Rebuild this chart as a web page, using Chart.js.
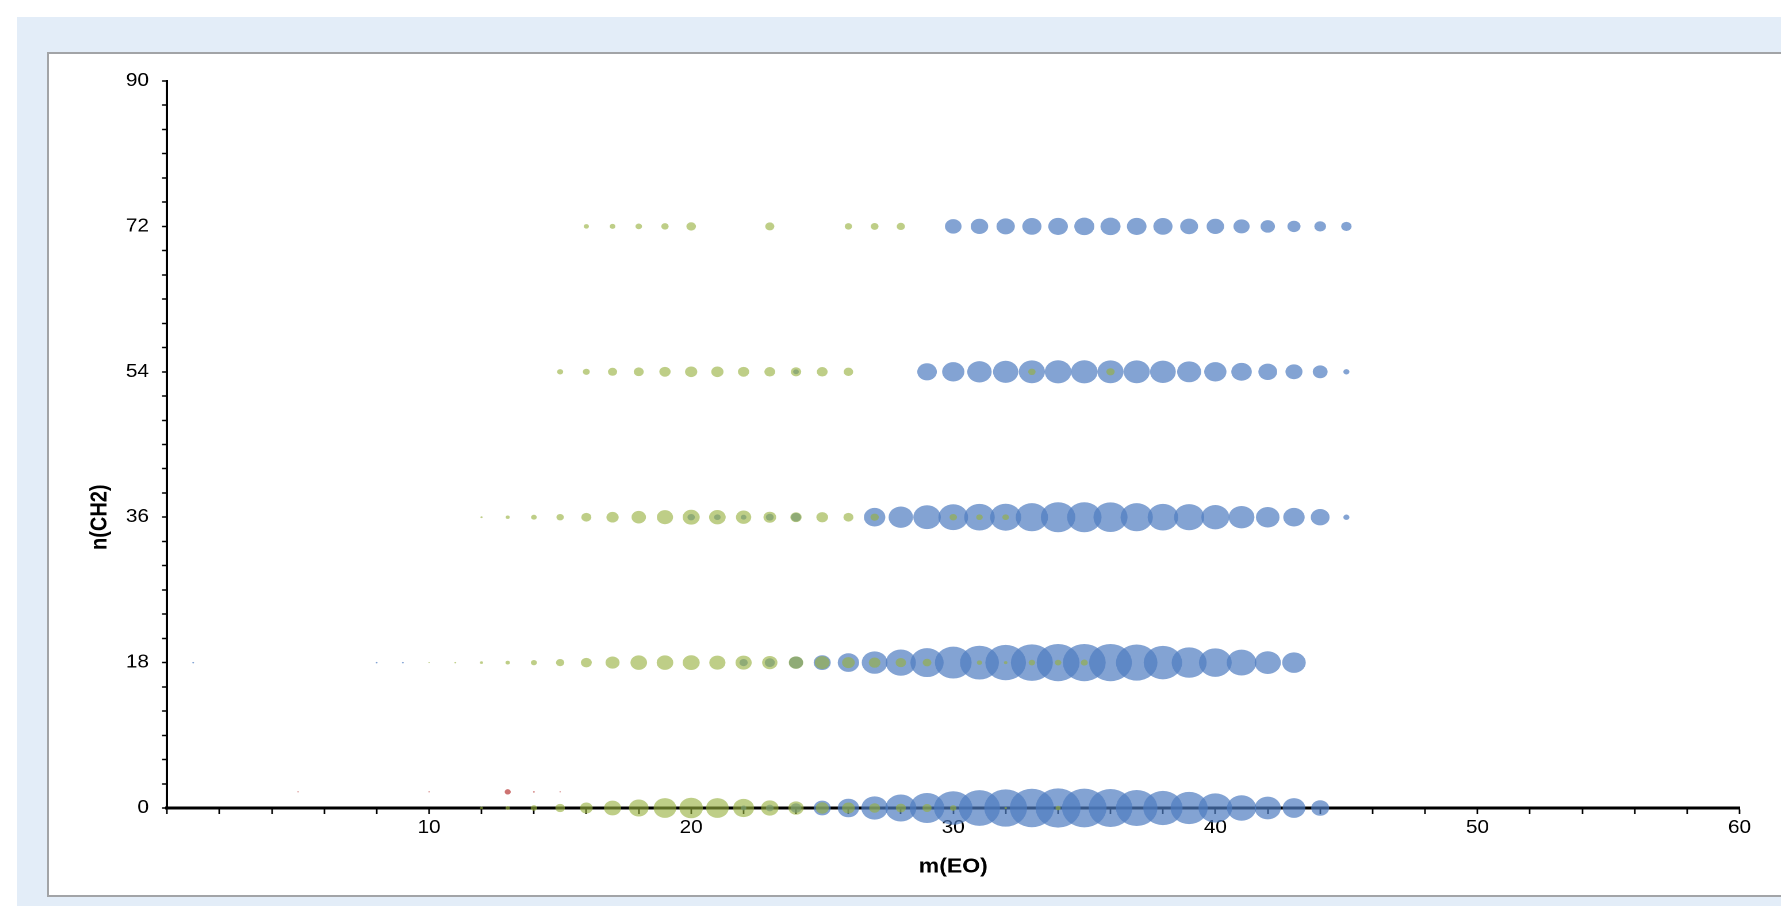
<!DOCTYPE html>
<html>
<head>
<meta charset="utf-8">
<script src="https://cdn.jsdelivr.net/npm/chart.js@4.4.0/dist/chart.umd.min.js"></script>
<style>
  html, body { margin: 0; padding: 0; background: #fff; overflow: hidden; }
  #bg { position: absolute; left: 17px; top: 17px; right: 0; bottom: 0; background: #e3edf8; }
  #panel { position: absolute; left: 47px; top: 52px; width: 1740px; height: 845px; box-sizing: border-box;
           border: 2px solid #a2a4a7; background: #fff; }
  /* the original picture is stretched sideways, so the chart is too */
  #wrap { position: absolute; left: 0; top: 0; width: 1506px; height: 841px;
          transform: scaleX(1.15); transform-origin: 0 0; }
</style>
</head>
<body>
<div id="bg"></div>
<div id="panel"><div id="wrap"><canvas id="chart"></canvas></div></div>
<script>
// n(CH2) levels and bubble intensities per m(EO)
const ch2Levels = [0, 18, 36, 54, 72];

const greenStart = [12, 10, 12, 15, 16];
const greenSizes = [
  [7, 10, 15, 22, 29, 39, 45, 52, 54, 52, 48, 40, 35, 30, 29, 25, 23, 21, 15, null, 6, null, 12],
  [3, 4, 7, 10, 14, 19, 25, 32, 38, 38, 39, 37, 37, 35, 33, 34, 29, 27, 24, 20, null, 12, 8, 15, 15, 16],
  [5, 9, 13, 17, 23, 28, 33, 37, 39, 38, 35, 29, 26, 27, 23, 19, null, null, 17, 15, 15],
  [14, 16, 21, 23, 26, 28, 28, 26, 25, 24, 25, 22, null, null, null, null, null, null, 17, null, null, 19],
  [12, 13, 15, 17, 22, null, null, 21, null, null, 17, 18, 19]
];

const blueStart = [22, 1, 20, 24, 30];
const blueSizes = [
  [13, 18, 25, 39, 49, 61, 71, 79, 88, 94, 98, 101, 103, 102, 100, 95, 90, 85, 77, 67, 60, 52, 41],
  [4, null, null, null, null, null, null, 4, 4, null, null, null, null, null, null, null, null, null, null, null, null,
   19, 23, 32, 39, 49, 59, 69, 76, 84, 89, 93, 96, 98, 98, 98, 95, 88, 80, 75, 68, 60, 54],
  [17, 15, 13, 18, 23, null, null, 49, 56, 63, 68, 70, 71, 74, 79, 79, 78, 74, 70, 69, 64, 59, 54, 49, 43, 14],
  [13, null, null, null, null, 45, 51, 56, 58, 60, 61, 61, 60, 60, 59, 55, 51, 47, 43, 39, 34, 14],
  [38, 40, 42, 44, 45, 46, 46, 45, 44, 41, 40, 37, 33, 30, 27, 24]
];

const redLevels = [2];
const redStart = [5];
const redSizes = [
  [3, null, null, null, null, 3, null, null, 14, 4, 3]
];

const yTickLabels = [0, 18, 36, 54, 72, 90];
const xTickLabels = [10, 20, 30, 40, 50, 60];

const RADIUS_PER_UNIT = 0.19;

function toPoints(levels, starts, sizes) {
  const pts = [];
  levels.forEach((y, i) => {
    sizes[i].forEach((v, j) => {
      if (v !== null) pts.push({ x: starts[i] + j, y: y, r: v * RADIUS_PER_UNIT });
    });
  });
  return pts;
}

const FONT = '"Liberation Sans", Arial, sans-serif';

const yTitle = {
  id: 'yTitle',
  afterDraw(chart) {
    const { ctx, chartArea } = chart;
    ctx.save();
    ctx.translate(chartArea.left - 58, chartArea.top + (chartArea.bottom - chartArea.top) * 0.6);
    ctx.rotate(-Math.PI / 2);
    ctx.font = 'bold 20px ' + FONT;
    ctx.fillStyle = '#000';
    ctx.textAlign = 'center';
    ctx.textBaseline = 'middle';
    ctx.fillText('n(CH2)', 0, 0);
    ctx.restore();
  }
};

const tickFont = { family: FONT, size: 18 };

new Chart(document.getElementById('chart'), {
  type: 'bubble',
  data: {
    datasets: [
      { label: 'red', data: toPoints(redLevels, redStart, redSizes),
        backgroundColor: 'rgba(192,80,77,0.8)', borderWidth: 0, clip: false },
      { label: 'green', data: toPoints(ch2Levels, greenStart, greenSizes),
        backgroundColor: 'rgba(150,176,62,0.62)', borderWidth: 0, clip: false },
      { label: 'blue', data: toPoints(ch2Levels, blueStart, blueSizes),
        backgroundColor: 'rgba(79,124,192,0.7)', borderWidth: 0, clip: false }
    ]
  },
  options: {
    responsive: true,
    maintainAspectRatio: false,
    devicePixelRatio: 2,
    animation: false,
    events: [],
    layout: { padding: { left: 0, top: 27, right: 36, bottom: 0 } },
    plugins: { legend: { display: false }, tooltip: { enabled: false } },
    scales: {
      x: {
        type: 'linear', min: 0, max: 60,
        afterFit: (scale) => { scale.height = 87; },
        ticks: {
          stepSize: 2, autoSkip: false, maxRotation: 0, padding: 3, color: '#000', font: tickFont,
          callback: (v) => xTickLabels.includes(v) ? String(v) : ''
        },
        grid: { drawOnChartArea: false, drawTicks: true, tickLength: 6, tickColor: '#000', tickWidth: 1.4 },
        border: { display: true, color: '#000', width: 3 },
        title: { display: true, text: 'm(EO)', color: '#000', padding: { top: 0, bottom: 16 },
                 font: { family: FONT, size: 20, weight: 'bold' } }
      },
      y: {
        type: 'linear', min: 0, max: 90,
        afterFit: (scale) => { scale.width = 102.6; },
        ticks: {
          stepSize: 3, autoSkip: false, padding: 11.4, color: '#000', font: tickFont,
          callback: (v) => yTickLabels.includes(v) ? String(v) : ''
        },
        grid: { drawOnChartArea: false, drawTicks: true, tickLength: 4.3, tickColor: '#000', tickWidth: 1.5 },
        border: { display: true, color: '#000', width: 2 }
      }
    }
  },
  plugins: [yTitle]
});
</script>
</body>
</html>
